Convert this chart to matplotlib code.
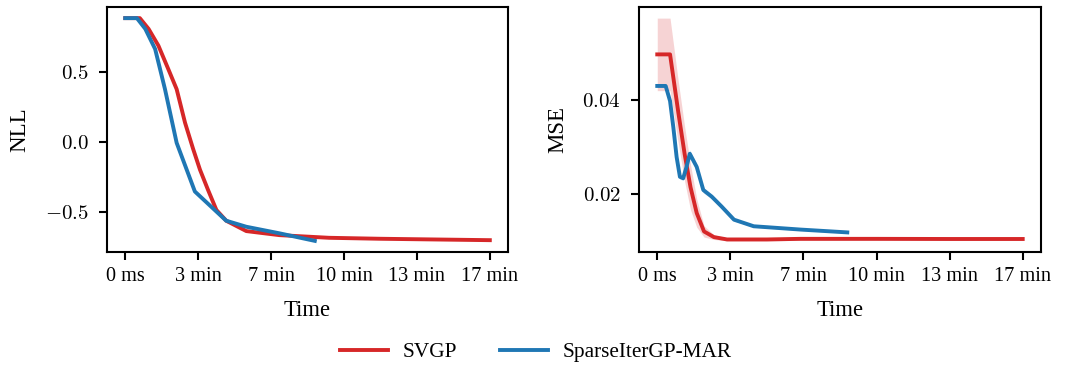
import numpy as np
import matplotlib
matplotlib.use("Agg")
import matplotlib.pyplot as plt

plt.rcParams.update({
    "font.family": "serif",
    "font.serif": ["Liberation Serif", "DejaVu Serif"],
    "mathtext.fontset": "cm",
    "font.size": 15,
    "axes.linewidth": 1.5,
    "xtick.major.width": 1.5,
    "ytick.major.width": 1.5,
    "xtick.major.size": 6,
    "ytick.major.size": 6,
})

RED = "#d62728"
BLUE = "#1f77b4"

# --- NLL vs wall-clock time (seconds) ---
t_nll_svgp = [0, 40, 64, 91, 118, 141, 164, 186, 205, 227, 250, 277, 332, 423, 559, 700, 850, 1000]
nll_svgp = [0.884, 0.884, 0.807, 0.687, 0.52, 0.376, 0.136, -0.05, -0.2, -0.344, -0.488,
            -0.565, -0.639, -0.668, -0.687, -0.694, -0.699, -0.704]

t_nll_iter = [0, 32, 55, 82, 109, 141, 191, 277, 332, 423, 520]
nll_iter = [0.884, 0.884, 0.807, 0.663, 0.376, -0.008, -0.356, -0.565, -0.608, -0.655, -0.709]

# --- MSE vs wall-clock time (seconds) ---
t_mse_svgp = [0, 35, 57, 75, 91, 108, 128, 155, 191, 300, 392, 600, 800, 1000]
mse_svgp = [0.0497, 0.0497, 0.0377, 0.0285, 0.0215, 0.0160, 0.0121, 0.0109, 0.0104,
            0.0104, 0.01053, 0.01053, 0.0105, 0.0105]
mse_svgp_std = [0.0077, 0.0077, 0.0066, 0.0058, 0.0048, 0.0030, 0.0012, 0.0005, 0.0003,
                0.0003, 0.0003, 0.0003, 0.0003, 0.0003]

t_mse_iter = [0, 23, 35, 44, 53, 62, 71, 80, 89, 108, 126, 149, 176, 210, 264, 301, 392, 520]
mse_iter = [0.0430, 0.0430, 0.0398, 0.0342, 0.0279, 0.0237, 0.0234, 0.0258, 0.0286, 0.0258,
            0.0209, 0.0195, 0.0174, 0.0146, 0.0132, 0.0130, 0.0125, 0.0119]
mse_iter_std = [0.0003, 0.0003, 0.0003, 0.0004, 0.0005, 0.0005, 0.0005, 0.0006, 0.0008, 0.0006,
                0.0006, 0.0005, 0.0004, 0.0003, 0.0002, 0.0002, 0.0002, 0.0002]

tick_secs = [0, 200, 400, 600, 800, 1000]
tick_labels = ["0 ms", "3 min", "7 min", "10 min", "13 min", "17 min"]
nll_ticks = [-0.5, 0.0, 0.5]
nll_tick_labels = [r"$-0.5$", r"$0.0$", r"$0.5$"]
mse_ticks = [0.02, 0.04]
mse_tick_labels = [r"$0.02$", r"$0.04$"]

fig = plt.figure(figsize=(10.68, 3.70), dpi=100)
ax1 = fig.add_axes([0.1002, 0.3189, 0.3755, 0.6622])
ax2 = fig.add_axes([0.5983, 0.3189, 0.3764, 0.6622])

lw = 2.8
l1, = ax1.plot(t_nll_svgp, nll_svgp, color=RED, lw=lw, label="SVGP")
l2, = ax1.plot(t_nll_iter, nll_iter, color=BLUE, lw=lw, label="SparseIterGP-MAR")

ms, ss = np.array(mse_svgp), np.array(mse_svgp_std)
mi, si = np.array(mse_iter), np.array(mse_iter_std)
ax2.fill_between(t_mse_svgp, ms - ss, ms + ss, color=RED, alpha=0.2, lw=0)
ax2.fill_between(t_mse_iter, mi - si, mi + si, color=BLUE, alpha=0.2, lw=0)
ax2.plot(t_mse_svgp, mse_svgp, color=RED, lw=lw)
ax2.plot(t_mse_iter, mse_iter, color=BLUE, lw=lw)

ax1.set_yticks(nll_ticks, nll_tick_labels)
ax2.set_yticks(mse_ticks, mse_tick_labels)

for ax, name, lx in ((ax1, "NLL", -0.218), (ax2, "MSE", -0.2015)):
    ax.set_ylabel(name, fontsize=16.5, va="center")
    ax.yaxis.set_label_coords(lx, 0.5)
    ax.set_xticks(tick_secs)
    ax.set_xticklabels(tick_labels, fontsize=14.6)
    ax.set_xlabel("Time", fontsize=16.3, va="center")
    ax.xaxis.set_label_coords(0.5, -0.237)
    ax.tick_params(axis="x", pad=5)
    ax.tick_params(axis="y", pad=7, labelsize=15)

fig.legend(handles=[l1, l2], loc="center", bbox_to_anchor=(0.502, 0.0486), ncol=2,
           frameon=False, fontsize=15.3, columnspacing=2.0, handlelength=2.26,
           handletextpad=0.7)

fig.savefig("out.png", dpi=100)
